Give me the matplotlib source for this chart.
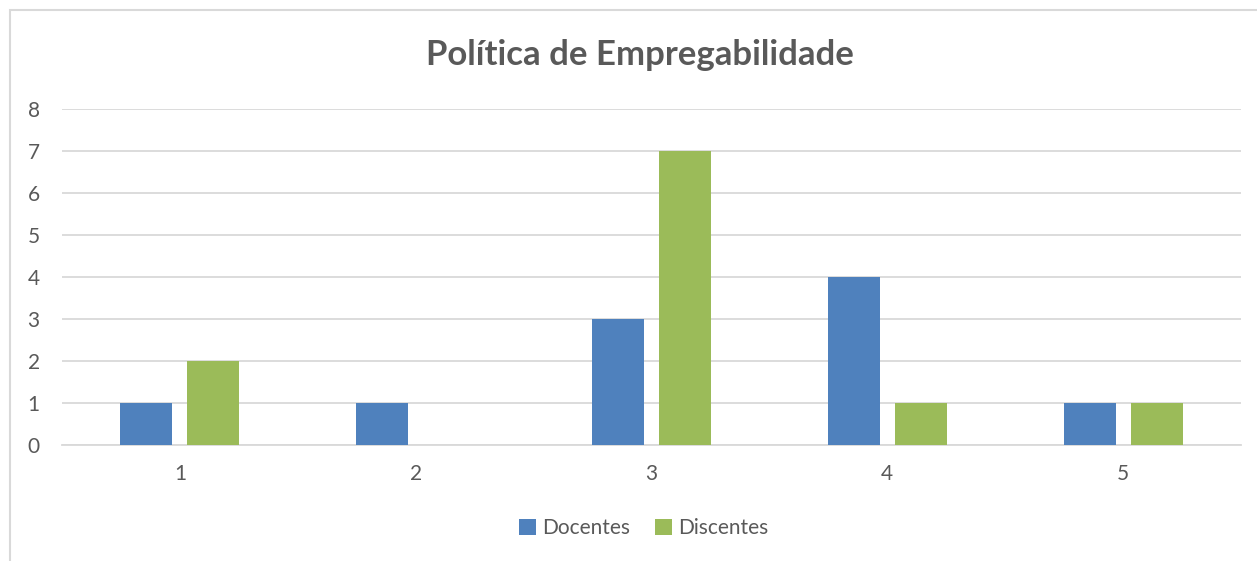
import matplotlib.pyplot as plt
import numpy as np
from matplotlib.patches import Rectangle

categories = ["1", "2", "3", "4", "5"]
docentes = [1, 1, 3, 4, 1]
discentes = [2, 0, 7, 1, 1]

blue = "#4F81BD"
green = "#9BBB59"
text_gray = "#595959"
grid_gray = "#D9D9D9"

plt.rcParams['font.family'] = ['Lato', 'DejaVu Sans']

fig = plt.figure(figsize=(12.57, 5.61), dpi=100)
ax = fig.add_axes([62 / 1257, 1 - 445 / 561, 1179 / 1257, 336 / 561])

# chart frame (left and top edges only show)
fig.patches.append(Rectangle((10 / 1257, -0.1), 1.2, 1 - 10 / 561 + 0.1,
                             transform=fig.transFigure, fill=False,
                             edgecolor=grid_gray, linewidth=1.5))

x = np.arange(1, len(categories) + 1)
barWidth = 0.22
offset = 0.142

ax.bar(x - offset, docentes, width=barWidth, color=blue, label="Docentes", zorder=3)
ax.bar(x + offset, discentes, width=barWidth, color=green, label="Discentes", zorder=3)

ax.set_xlim(0.5, 5.5)
ax.set_ylim(0, 8)
ax.set_yticks(range(0, 9))
ax.set_xticks(x)
ax.set_xticklabels(categories)
ax.yaxis.grid(True, color=grid_gray, linewidth=1.3, zorder=0)
ax.set_axisbelow(True)

for side in ["top", "right", "left"]:
    ax.spines[side].set_visible(False)
ax.spines["bottom"].set_color(grid_gray)
ax.spines["bottom"].set_linewidth(1.3)

ax.tick_params(axis="both", length=0, labelsize=15, labelcolor=text_gray)
ax.tick_params(axis="y", pad=16)
ax.tick_params(axis="x", pad=14)

fig.text(640 / 1257, 1 - 55 / 561, "Política de Empregabilidade", ha="center",
         va="center", fontsize=25, fontweight="bold", color=text_gray)

fig.legend(loc="center", bbox_to_anchor=(644 / 1257, 1 - 528 / 561), ncol=2,
           frameon=False, fontsize=15, labelcolor=text_gray, handlelength=0.8,
           handleheight=0.8, handletextpad=0.3, columnspacing=1.2)

fig.savefig("out.png", dpi=100, facecolor="white")
